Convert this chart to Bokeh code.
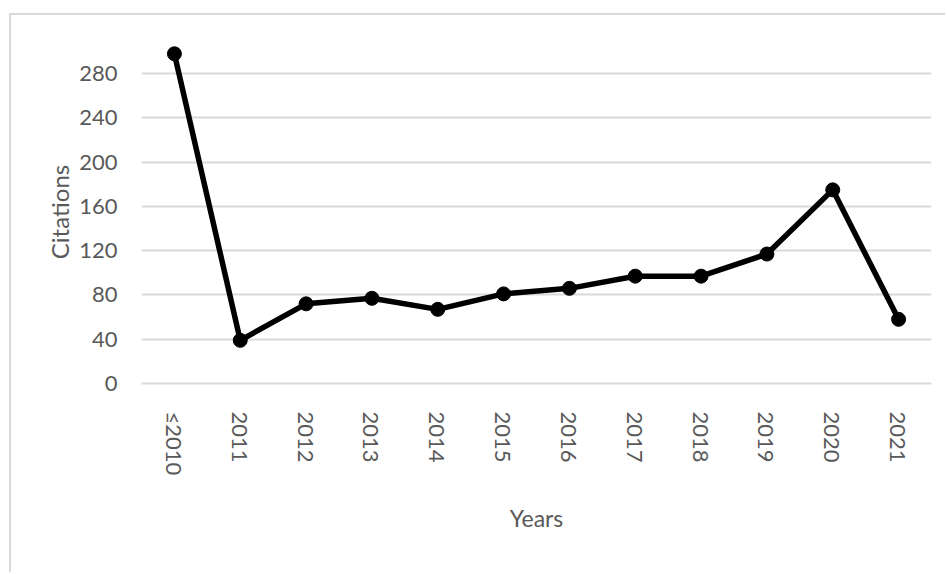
from bokeh.plotting import figure
from bokeh.models import FixedTicker, Range1d, ColumnDataSource
from bokeh.embed import file_html
from bokeh.resources import INLINE
import math

years = ["≤2010", "2011", "2012", "2013", "2014", "2015", "2016", "2017", "2018", "2019", "2020", "2021"]
citations = [298, 39, 72, 77, 67, 81, 86, 97, 97, 117, 175, 58]
y_ticks = [0, 40, 80, 120, 160, 200, 240, 280]

src = ColumnDataSource(dict(x=years, y=citations))

FONT = "Lato"
GRAY = "#595959"
GRID = "#d9d9d9"

p = figure(width=936, height=559, x_range=years, y_range=Range1d(0, 310),
           output_backend="svg", toolbar_location=None,
           min_border_left=130, min_border_right=16, min_border_top=25, min_border_bottom=191)
p.margin = (13, 0, 0, 9)
p.styles = {"border-top": "2px solid #d9d9d9", "border-left": "2px solid #d9d9d9"}
p.outline_line_color = None
p.background_fill_color = "white"
p.border_fill_color = "white"

p.line("x", "y", source=src, line_color="black", line_width=5.5, line_join="round")
p.scatter("x", "y", source=src, size=14, fill_color="black", line_color="black")

p.yaxis.ticker = FixedTicker(ticks=y_ticks)
p.yaxis.axis_line_color = None
p.yaxis.major_tick_line_color = None
p.yaxis.minor_tick_line_color = None
p.yaxis.major_label_standoff = 18
p.yaxis.axis_label = "Citations"
p.yaxis.axis_label_standoff = 2

p.xaxis.axis_line_color = GRID
p.xaxis.axis_line_width = 2
p.xaxis.major_tick_line_color = None
p.xaxis.minor_tick_line_color = None
p.xaxis.major_label_orientation = -math.pi / 2
p.xaxis.major_label_standoff = 22
p.xaxis.axis_label = "Years"
p.xaxis.axis_label_standoff = 26

for ax in (p.xaxis[0], p.yaxis[0]):
    ax.major_label_text_font = FONT
    ax.major_label_text_font_size = "22px"
    ax.major_label_text_color = GRAY
    ax.axis_label_text_font = FONT
    ax.axis_label_text_font_size = "23px"
    ax.axis_label_text_font_style = "normal"
    ax.axis_label_text_color = GRAY

p.yaxis.axis_label_text_font_size = "24px"

p.xgrid.grid_line_color = None
p.ygrid.grid_line_color = GRID
p.ygrid.grid_line_width = 2

open("out.html", "w").write(file_html(p, INLINE))
